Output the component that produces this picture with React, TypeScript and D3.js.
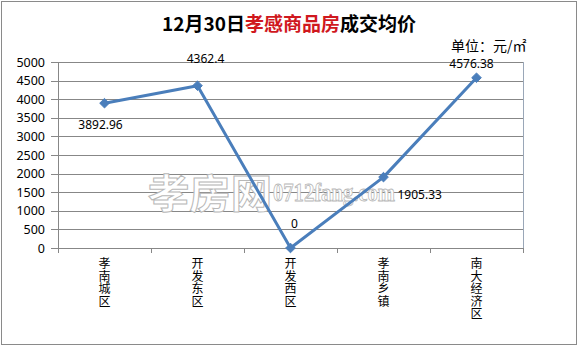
import React from 'react';
import * as d3 from 'd3';

const categories = ['孝南城区', '开发东区', '开发西区', '孝南乡镇', '南大经济区'];
const values = [3892.96, 4362.4, 0, 1905.33, 4576.38];
const valueLabels = ['3892.96', '4362.4', '0', '1905.33', '4576.38'];
const labelPlacement = ['below', 'above-far', 'above', 'right', 'above-near'];
const yTicks = [0, 500, 1000, 1500, 2000, 2500, 3000, 3500, 4000, 4500, 5000];
const titleParts = [
  { text: '12月30日', color: '#000000' },
  { text: '孝感商品房', color: '#d0181e' },
  { text: '成交均价', color: '#000000' },
];
const unitText = '单位：元/㎡';
const watermarkCn = '孝房网';
const watermarkEn = '0712fang.com';

const W = 578;
const H = 347;
const M = { left: 58, right: 523, top: 62, bottom: 248 };
const LINE = '#4a7ebb';
const GRID = '#878787';
const FONT = '"Noto Sans", "Noto Sans CJK SC", sans-serif';
const CJK = '"Noto Sans CJK SC", sans-serif';

const offsets: Record<string, { dx: number; dy: number; anchor: string }> = {
  below: { dx: -4, dy: 26, anchor: 'middle' },
  'above-far': { dx: 8, dy: -23, anchor: 'middle' },
  above: { dx: 4, dy: -20, anchor: 'middle' },
  right: { dx: 14, dy: 22, anchor: 'start' },
  'above-near': { dx: -5, dy: -10, anchor: 'middle' },
};

export default function App() {
  const x = d3.scaleBand<string>().domain(categories).range([M.left, M.right]).paddingInner(0).paddingOuter(0);
  const y = d3.scaleLinear().domain([0, 5000]).range([M.bottom, M.top]);
  const cx = (c: string) => (x(c) as number) + x.bandwidth() / 2;
  const pts: [number, number][] = categories.map((c, i) => [cx(c), y(values[i])]);
  const line = d3.line<[number, number]>().x((d) => d[0]).y((d) => d[1]);
  const r = 4.8;
  const diamond = `M0,${-r}L${r},0L0,${r}L${-r},0Z`;
  const bounds = [...categories.map((c) => x(c) as number), M.right];

  return (
    <svg width={W} height={H} style={{ position: 'absolute', left: 0, top: 0, background: '#fff' }}>
      <rect x={0} y={0} width={W} height={H} fill="#fff" />
      <rect x={1.5} y={1.5} width={575} height={343} fill="none" stroke="#8a8a8a" strokeWidth={1} />

      <text x={289} y={31} textAnchor="middle" fontFamily={CJK} fontWeight="bold" fontSize={19}>
        {titleParts.map((p, i) => (
          <tspan key={i} fill={p.color}>{p.text}</tspan>
        ))}
      </text>
      <text x={451} y={51} fontFamily={CJK} fontSize={14} fill="#000">{unitText}</text>

      {yTicks.map((t) => (
        <g key={t}>
          <line x1={M.left} x2={M.right} y1={Math.round(y(t)) + 0.5} y2={Math.round(y(t)) + 0.5} stroke={GRID} strokeWidth={1} />
          <line x1={51} x2={M.left} y1={Math.round(y(t)) + 0.5} y2={Math.round(y(t)) + 0.5} stroke={GRID} strokeWidth={1} />
          <text x={45} y={y(t) + 4.5} textAnchor="end" fontFamily={FONT} fontSize={12.5} fill="#000">{t}</text>
        </g>
      ))}
      <line x1={M.left + 0.5} x2={M.left + 0.5} y1={M.top} y2={M.bottom} stroke={GRID} />
      <line x1={M.right + 0.5} x2={M.right + 0.5} y1={M.top} y2={M.bottom} stroke="#9aa7b8" />
      {bounds.map((b, i) => (
        <line key={i} x1={Math.round(b) + 0.5} x2={Math.round(b) + 0.5} y1={M.bottom} y2={M.bottom + 5} stroke={GRID} />
      ))}

      {categories.map((c) => (
        <text key={c} x={cx(c)} fontFamily={CJK} fontSize={12} textAnchor="middle" fill="#000">
          {Array.from(c).map((ch, j) => (
            <tspan key={j} x={cx(c)} y={268 + j * 12.6}>{ch}</tspan>
          ))}
        </text>
      ))}

      <g>
        <text x={148} y={208} fontFamily={CJK} fontWeight="bold" fontSize={40} fill="#ffffff" stroke="#b8b8b8" strokeWidth={1}
          textLength={124} lengthAdjust="spacingAndGlyphs">{watermarkCn}</text>
        <text x={273} y={201} fontFamily='"Liberation Serif", serif' fontWeight="bold" fontSize={26} fill="#ffffff" stroke="#b8b8b8" strokeWidth={0.9}
          textLength={122} lengthAdjust="spacingAndGlyphs">{watermarkEn}</text>
      </g>

      <path d={line(pts) as string} fill="none" stroke={LINE} strokeWidth={3} strokeLinejoin="round" />
      {pts.map((p, i) => (
        <path key={i} d={diamond} transform={`translate(${p[0]},${p[1]})`} fill={LINE} stroke={LINE} />
      ))}

      {pts.map((p, i) => {
        const o = offsets[labelPlacement[i]];
        return (
          <text key={i} x={p[0] + o.dx} y={p[1] + o.dy} textAnchor={o.anchor} fontFamily={FONT} fontSize={12} fill="#000">
            {valueLabels[i]}
          </text>
        );
      })}
    </svg>
  );
}
